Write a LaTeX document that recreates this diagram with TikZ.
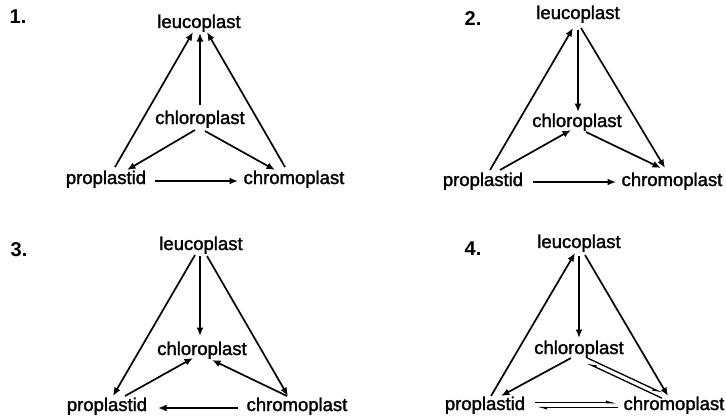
\documentclass[tikz,border=0pt]{standalone}
\usepackage{fontspec}
\setmainfont{Liberation Sans}
\newfontfamily\plfont{Liberation Sans}[FakeBold=1.6]
\usetikzlibrary{arrows.meta,calc}
\begin{document}
\begin{tikzpicture}[x=1pt,y=-1pt,
  plastid/.style={font=\plfont\fontsize{18.5}{20}\selectfont, inner sep=0pt, anchor=base},
  panelno/.style={font=\fontsize{20}{22}\selectfont\bfseries, inner sep=0pt},
  conv/.style={line width=1.7pt, -{Latex[length=8.5pt,width=7pt]}},
  rev/.style={line width=1.3pt, -{Latex[length=8.5pt,width=4.5pt,harpoon]}},
  revs/.style={line width=1.3pt, -{Latex[length=8.5pt,width=4.5pt,harpoon,swap]}},
]
\useasboundingbox (0,0) rectangle (726,416);

% ---------- 1 ----------
\node[panelno] (n1) at (18,17) {1.};
\node[plastid] (L1) at (199,28)  {leucoplast};
\node[plastid] (C1) at (200,124) {chloroplast};
\node[plastid] (P1) at (106,184) {proplastid};
\node[plastid] (R1) at (294,184) {chromoplast};
\draw[conv] ($(P1.base)+(9,-17)$) -- ($(L1.base)+(-6,4)$);
\draw[conv] ($(C1.base)+(0,-19)$) -- ($(L1.base)+(1,5)$);
\draw[conv] ($(R1.base)+(-9,-17)$) -- ($(L1.base)+(8,4)$);
\draw[conv] ($(C1.base)+(-5,6)$) -- ($(P1.base)+(21,-14)$);
\draw[conv] ($(C1.base)+(5,7)$) -- ($(R1.base)+(-19,-14)$);
\draw[conv] ($(P1.base)+(49,-3)$) -- ($(R1.base)+(-56,-3)$);

% ---------- 2 ----------
\node[panelno] (n2) at (473,19) {2.};
\node[plastid] (L2) at (578,19)  {leucoplast};
\node[plastid] (C2) at (577,127) {chloroplast};
\node[plastid] (P2) at (483,186) {proplastid};
\node[plastid] (R2) at (672,186) {chromoplast};
\draw[conv] ($(P2.base)+(7,-16)$) -- ($(L2.base)+(-5,9)$);
\draw[conv] ($(L2.base)+(0,11)$) -- ($(C2.base)+(1,-15)$);
\draw[conv] ($(L2.base)+(3,9)$) -- ($(R2.base)+(-7,-18)$);
\draw[conv] ($(P2.base)+(17,-16)$) -- ($(C2.base)+(-6,3)$);
\draw[conv] ($(C2.base)+(9,5)$) -- ($(R2.base)+(-11,-18)$);
\draw[conv] ($(P2.base)+(50,-4)$) -- ($(R2.base)+(-56,-4)$);

% ---------- 3 ----------
\node[panelno] (n3) at (19,250) {3.};
\node[plastid] (L3) at (201,250) {leucoplast};
\node[plastid] (C3) at (202,355) {chloroplast};
\node[plastid] (P3) at (107,411) {proplastid};
\node[plastid] (R3) at (297,411) {chromoplast};
\draw[conv] ($(L3.base)+(-6,5)$) -- ($(P3.base)+(6,-15)$);
\draw[conv] ($(L3.base)+(-1,6)$) -- ($(C3.base)+(-2,-19)$);
\draw[conv] ($(L3.base)+(6,6)$) -- ($(R3.base)+(-9,-15)$);
\draw[conv] ($(P3.base)+(18,-15)$) -- ($(C3.base)+(-9,3)$);
\draw[conv] ($(R3.base)+(-10,-15)$) -- ($(C3.base)+(10,5)$);
\draw[conv] ($(R3.base)+(-59,-3)$) -- ($(P3.base)+(51,-3)$);

% ---------- 4 ----------
\node[panelno] (n4) at (473,249) {4.};
\node[plastid] (L4) at (579,248) {leucoplast};
\node[plastid] (C4) at (579,354) {chloroplast};
\node[plastid] (P4) at (485,410) {proplastid};
\node[plastid] (R4) at (674,410) {chromoplast};
\draw[conv] ($(P4.base)+(6,-14)$) -- ($(L4.base)+(-4,5)$);
\draw[conv] ($(L4.base)+(0,8)$) -- ($(C4.base)+(0,-16)$);
\draw[conv] ($(L4.base)+(6,7)$) -- ($(R4.base)+(-6,-14)$);
\draw[conv] ($(C4.base)+(-8,4)$) -- ($(P4.base)+(16,-14)$);
% reversible steps drawn as paired harpoons
\coordinate (cs) at ($(C4.base)+(7,6)$);
\coordinate (ce) at ($(R4.base)+(-11,-14)$);
\draw[revs] ($(ce)!2.4pt!90:(cs)$) -- ($(cs)!2.4pt!-90:(ce)$);
\draw[revs] ($(cs)!2.4pt!90:(ce)$) -- ($(ce)!2.4pt!-90:(cs)$);
\coordinate (ps) at ($(P4.base)+(50,-5)$);
\coordinate (pe) at ($(R4.base)+(-56,-5)$);
\draw[rev] ($(ps)!2.4pt!90:(pe)$) -- ($(pe)!2.4pt!-90:(ps)$);
\draw[rev] ($(pe)!2.4pt!90:(ps)$) -- ($(ps)!2.4pt!-90:(pe)$);
\end{tikzpicture}
\end{document}
